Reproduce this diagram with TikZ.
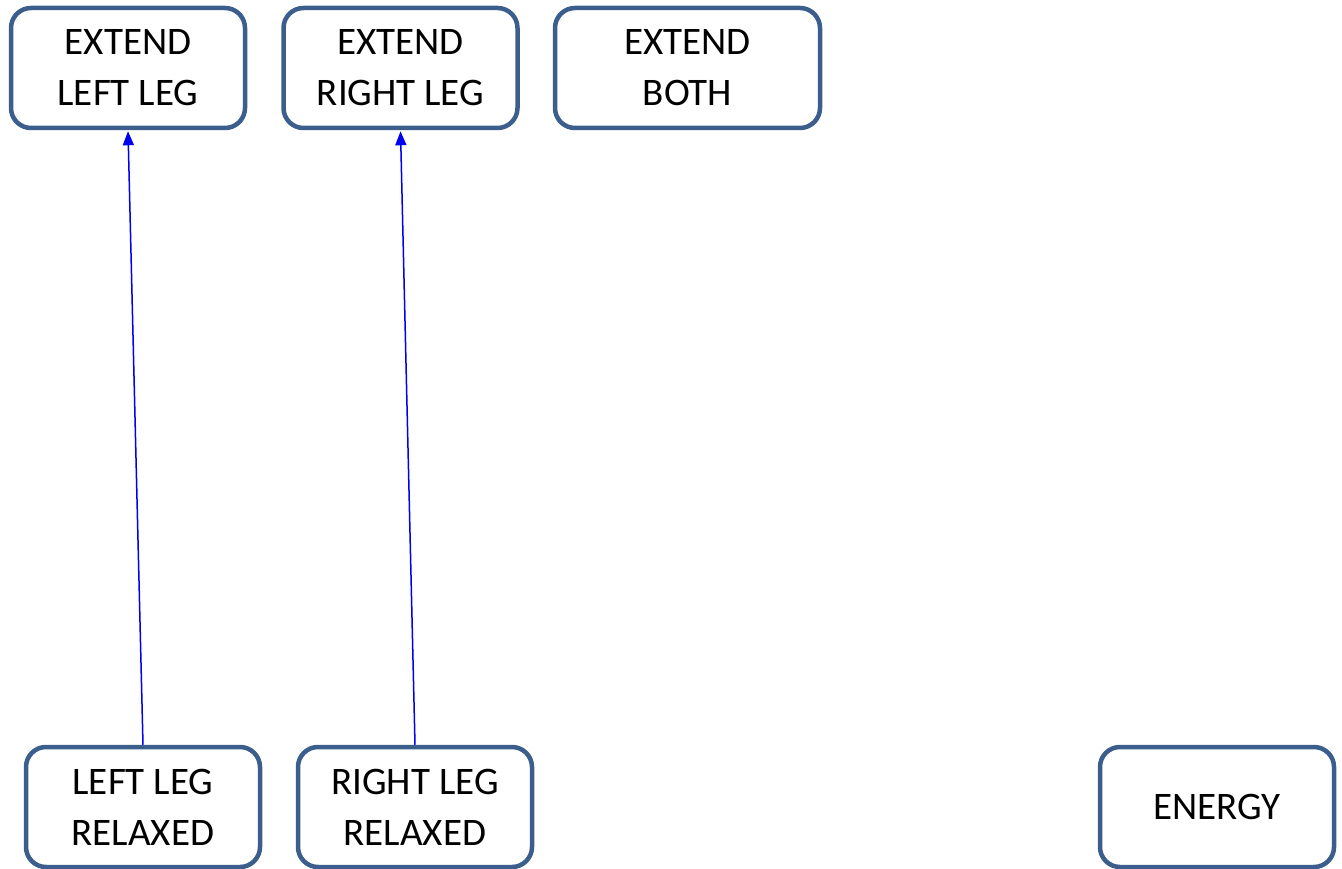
\documentclass[tikz,border=0pt]{standalone}
\usepackage{fontspec}
\setmainfont{Carlito}
\usetikzlibrary{arrows.meta}
\definecolor{boxline}{RGB}{59,94,140}
\definecolor{linkblue}{RGB}{0,0,240}
\begin{document}
\begin{tikzpicture}[x=1pt,y=-1pt,
  state/.style={draw=boxline, line width=4.5pt, rounded corners=20pt, fill=white,
    minimum width=234pt, minimum height=120pt, align=center, inner sep=0pt,
    font=\fontsize{39}{51}\selectfont},
  link/.style={draw=linkblue, line width=1.5pt, -{Triangle[length=14pt,width=11pt]}, shorten >=1pt}]
  \useasboundingbox (0,0) rectangle (1342,869);
  \fill[white] (0,0) rectangle (1342,869);
  % top row: extension states
  \node[state] (extL) at (128,68) {EXTEND\\LEFT LEG};
  \node[state] (extR) at (400.5,68) {EXTEND\\RIGHT LEG};
  \node[state, minimum width=265pt] (extB) at (687.5,68) {EXTEND\\BOTH};
  % bottom row: relaxed states and energy
  \node[state] (relL) at (143,807) {LEFT LEG\\RELAXED};
  \node[state] (relR) at (415,807) {RIGHT LEG\\RELAXED};
  \node[state] (energy) at (1217,807) {ENERGY};
  % transitions
  \draw[link] (relL.north) -- (extL.south);
  \draw[link] (relR.north) -- (extR.south);
\end{tikzpicture}
\end{document}
